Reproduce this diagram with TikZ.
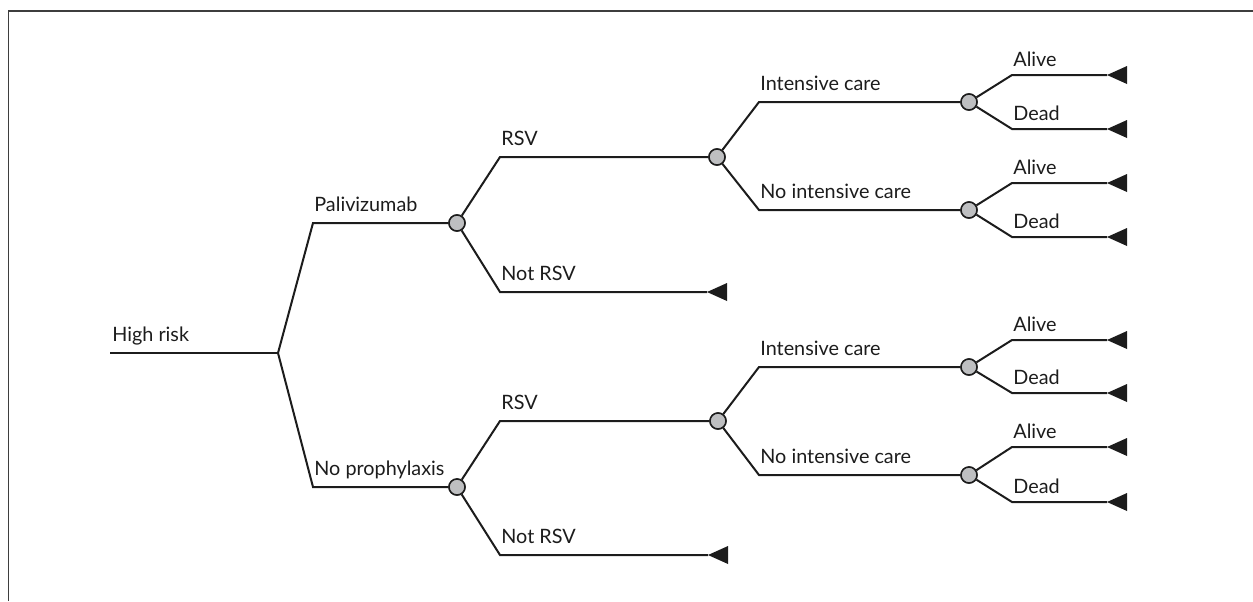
\documentclass[tikz,border=0pt]{standalone}
\usepackage{fontspec}
\setmainfont{Lato}
\definecolor{chancegray}{RGB}{190,191,193}
\definecolor{ink}{RGB}{28,28,28}
\begin{document}
\begin{tikzpicture}[x=0.5pt,y=-0.5pt,
  edge/.style={line width=1pt, draw=ink},
  frameline/.style={line width=0.9pt, draw=ink!85},
  chance/.style={circle, draw=ink, line width=0.75pt, fill=chancegray, minimum size=8pt, inner sep=0pt},
  lbl/.style={anchor=base west, inner sep=0pt, text=ink, font=\fontsize{9.9}{11}\selectfont},
  termtri/.pic={\fill[ink] (0,0) -- (20,-9) -- (20,9) -- cycle;}]
\useasboundingbox (0,0) rectangle (1253,601);
% frame (top and left edges)
\draw[frameline] (8.5,601) -- (8.5,11) -- (1253,11);

% root
\coordinate (hr) at (110,353);
\coordinate (f0) at (278,353);
\node[lbl] (lhr) at (112,341) {High risk};
\draw[edge] (hr) -- (f0);

% first level
\coordinate (e1) at (313,223);
\coordinate (e2) at (313,487);
\node[chance] (c1) at (457,223) {};
\node[chance] (c2) at (457,487) {};
\draw[edge] (f0) -- (e1) -- (c1);
\draw[edge] (f0) -- (e2) -- (c2);
\node[lbl] (l1) at (314,211) {Palivizumab};
\node[lbl] (l2) at (314,475) {No prophylaxis};

% second level
\coordinate (e11) at (500,157);
\coordinate (e12) at (500,292);
\coordinate (e21) at (500,421);
\coordinate (e22) at (500,555);
\node[chance] (c11) at (717,157) {};
\node[chance] (c21) at (718,421) {};
\coordinate (t12) at (707,292);
\coordinate (t22) at (708,555);
\draw[edge] (c1) -- (e11) -- (c11);
\draw[edge] (c1) -- (e12) -- (t12);
\draw[edge] (c2) -- (e21) -- (c21);
\draw[edge] (c2) -- (e22) -- (t22);
\node[lbl] (l11) at (501,145) {RSV};
\node[lbl] (l12) at (501,280) {Not RSV};
\node[lbl] (l21) at (501,409) {RSV};
\node[lbl] (l22) at (501,543) {Not RSV};

% third level
\coordinate (e111) at (759,102);
\coordinate (e112) at (759,210);
\coordinate (e211) at (759,367);
\coordinate (e212) at (759,475);
\node[chance] (c111) at (969,102) {};
\node[chance] (c112) at (969,210) {};
\node[chance] (c211) at (969,367) {};
\node[chance] (c212) at (969,475) {};
\draw[edge] (c11) -- (e111) -- (c111);
\draw[edge] (c11) -- (e112) -- (c112);
\draw[edge] (c21) -- (e211) -- (c211);
\draw[edge] (c21) -- (e212) -- (c212);
\node[lbl] (l111) at (760,90) {Intensive care};
\node[lbl] (l112) at (760,198) {No intensive care};
\node[lbl] (l211) at (760,355) {Intensive care};
\node[lbl] (l212) at (760,463) {No intensive care};

% outcomes
\foreach \c/\ya/\yd in {c111/75/129, c112/183/237, c211/340/393, c212/447/502}{
  \coordinate (\c-ea) at (1012,\ya);
  \coordinate (\c-ed) at (1012,\yd);
  \coordinate (\c-ta) at (1107,\ya);
  \coordinate (\c-td) at (1107,\yd);
  \draw[edge] (\c) -- (\c-ea) -- (\c-ta);
  \draw[edge] (\c) -- (\c-ed) -- (\c-td);
  \node[lbl] (\c-la) at (1013,\ya-9) {Alive};
  \node[lbl] (\c-ld) at (1013,\yd-9) {Dead};
  \pic at (\c-ta) {termtri};
  \pic at (\c-td) {termtri};
}
\pic at (t12) {termtri};
\pic at (t22) {termtri};

% redraw chance nodes on top
\foreach \c in {c1,c2,c11,c21,c111,c112,c211,c212}{
  \node[chance] at (\c) {};
}
\end{tikzpicture}
\end{document}
